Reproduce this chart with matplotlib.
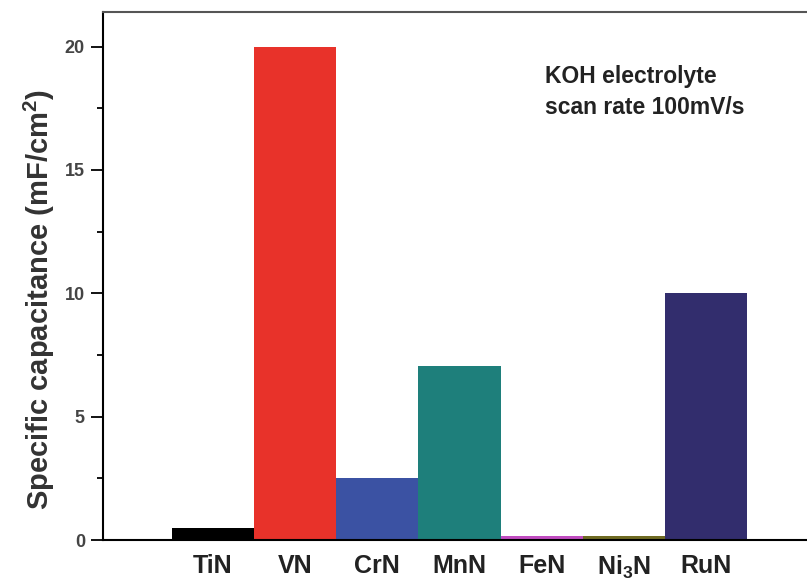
import matplotlib.pyplot as plt

# data
materials = ['TiN', 'VN', 'CrN', 'MnN', 'FeN', 'Ni$_3$N', 'RuN']
capacitance = [0.5, 20.0, 2.5, 7.05, 0.18, 0.18, 10.0]
colors = ['#000000', '#e8322a', '#3b52a3', '#1e7f7b', '#c04cc0', '#6e6a22', '#322d6d']
yticks = [0, 5, 10, 15, 20]

plt.rcParams['font.family'] = ['Liberation Sans', 'DejaVu Sans']
plt.rcParams['font.weight'] = 'bold'
plt.rcParams['mathtext.default'] = 'regular'

fig = plt.figure(figsize=(8.07, 5.88), dpi=100)
ax = fig.add_axes([0.1276, 0.0816, 0.8724, 0.898])

x = list(range(1, len(materials) + 1))
ax.bar(x, capacitance, width=1.0, color=colors, edgecolor='none')

ax.set_xlim(-0.34, 8.23)
ax.set_ylim(0, 21.4)
ax.set_yticks(yticks)
ax.set_yticks([2.5, 7.5, 12.5, 17.5], minor=True)
ax.set_xticks(x)
ax.set_xticklabels(materials, fontsize=18, fontweight='bold', color='#222222')
ax.tick_params(axis='x', length=0, pad=10)
ax.tick_params(axis='y', which='major', direction='out', length=9, width=1.3,
               labelsize=13, labelcolor='#444444', pad=4)
ax.tick_params(axis='y', which='minor', direction='out', length=4.5, width=1.3)

ax.spines['right'].set_visible(False)
for side in ['left', 'top', 'bottom']:
    ax.spines[side].set_linewidth(1.5)
ax.spines['top'].set_color('#555555')

ax.set_ylabel('Specific capacitance (mF/cm$^2$)', fontsize=21, fontweight='bold',
              color='#333333')
ax.yaxis.set_label_coords(-0.066, 0.455)

ax.text(0.628, 0.9, 'KOH electrolyte\nscan rate 100mV/s', transform=ax.transAxes,
        fontsize=16.5, fontweight='bold', color='#222222', va='top', linespacing=1.45)

plt.savefig('out.png', dpi=100)
